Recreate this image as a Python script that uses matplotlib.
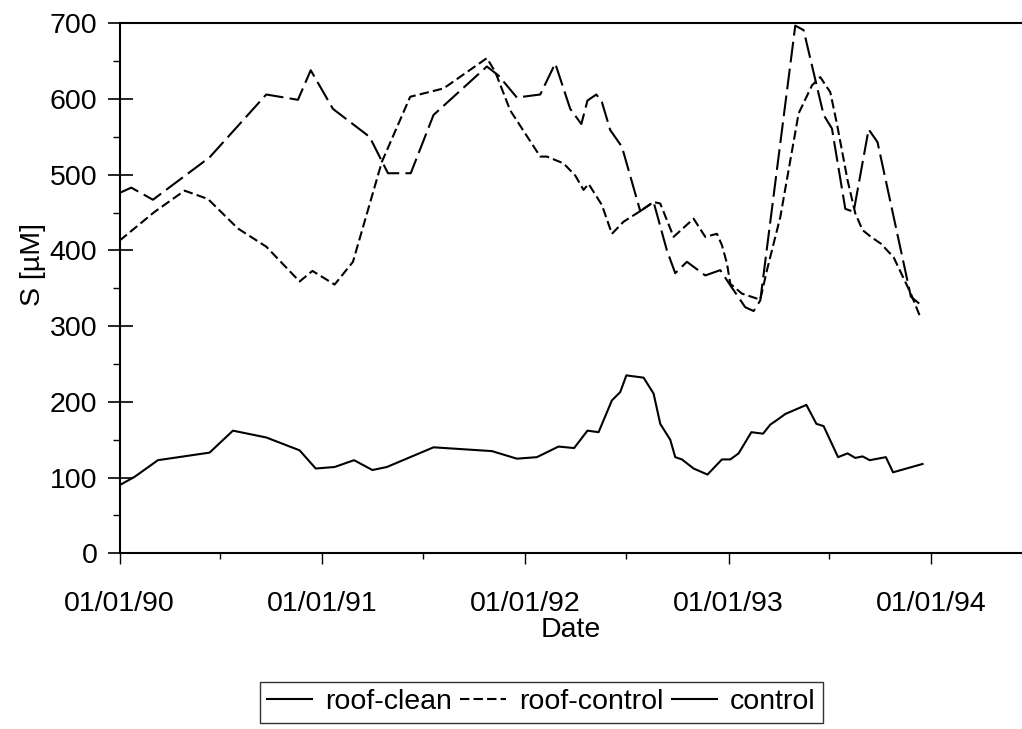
import numpy as np
import pandas as pd
import matplotlib
matplotlib.use("Agg")
import matplotlib.pyplot as plt
import matplotlib.dates as mdates
from matplotlib.lines import Line2D
from matplotlib.ticker import MultipleLocator

plt.rcParams['font.family'] = ['Liberation Sans', 'DejaVu Sans']

# roof-clean (long dashes)
clean_dates = ["1990-01-01", "1990-01-22", "1990-03-02", "1990-06-12", "1990-09-22",
               "1990-11-18", "1990-12-11", "1991-01-20", "1991-03-27", "1991-04-29",
               "1991-06-09", "1991-07-20", "1991-10-24", "1991-11-14", "1991-12-17",
               "1992-01-28", "1992-02-24", "1992-03-22", "1992-04-11", "1992-04-22",
               "1992-05-08", "1992-05-18", "1992-06-02", "1992-06-23", "1992-07-26",
               "1992-08-19", "1992-09-12", "1992-09-27", "1992-10-18", "1992-11-20",
               "1992-12-17", "1993-01-04", "1993-01-31", "1993-02-15", "1993-02-27",
               "1993-05-01", "1993-05-16", "1993-06-21", "1993-07-06", "1993-07-30",
               "1993-08-14", "1993-09-10", "1993-09-26", "1993-11-25", "1993-12-13"]
clean_vals = [476, 483, 467, 523, 606, 599, 638, 587, 550, 502,
              502, 579, 643, 631, 602, 606, 647, 587, 567, 598,
              606, 596, 559, 537, 452, 464, 400, 370, 385, 367,
              374, 354, 325, 320, 334, 697, 691, 579, 561, 455,
              451, 560, 543, 339, 328]

# roof-control (short dashes)
rc_dates = ["1990-01-01", "1990-03-05", "1990-04-28", "1990-06-09", "1990-08-02",
            "1990-09-22", "1990-11-21", "1990-12-14", "1991-01-23", "1991-02-25",
            "1991-04-18", "1991-06-08", "1991-08-07", "1991-10-24", "1991-11-08",
            "1991-12-05", "1992-01-28", "1992-02-09", "1992-03-10", "1992-03-31",
            "1992-04-15", "1992-04-24", "1992-05-18", "1992-06-05", "1992-06-26",
            "1992-07-26", "1992-08-19", "1992-08-31", "1992-09-24", "1992-10-30",
            "1992-11-20", "1992-12-11", "1992-12-20", "1992-12-29", "1993-01-04",
            "1993-01-25", "1993-02-27", "1993-03-11", "1993-04-04", "1993-05-07",
            "1993-05-31", "1993-06-15", "1993-07-03", "1993-07-15", "1993-08-03",
            "1993-08-17", "1993-08-30", "1993-09-14", "1993-10-02", "1993-10-25",
            "1993-11-25", "1993-12-13"]
rc_vals = [413, 451, 479, 468, 429, 405, 359, 373, 355, 385,
           517, 603, 614, 654, 636, 585, 524, 524, 515, 499,
           480, 488, 460, 422, 438, 452, 464, 462, 418, 442,
           418, 422, 407, 383, 356, 343, 335, 374, 444, 581,
           618, 629, 609, 567, 493, 449, 427, 418, 409, 391,
           343, 310]

# control (solid)
ctrl_dates = ["1990-01-01", "1990-01-28", "1990-03-11", "1990-06-12", "1990-07-24",
              "1990-09-22", "1990-11-21", "1990-12-20", "1991-01-23", "1991-02-27",
              "1991-04-01", "1991-04-27", "1991-07-20", "1991-11-02", "1991-12-17",
              "1992-01-22", "1992-03-01", "1992-03-29", "1992-04-22", "1992-05-12",
              "1992-06-05", "1992-06-20", "1992-07-01", "1992-08-01", "1992-08-19",
              "1992-08-31", "1992-09-18", "1992-09-27", "1992-10-09", "1992-10-30",
              "1992-11-24", "1992-12-20", "1993-01-04", "1993-01-19", "1993-02-11",
              "1993-03-04", "1993-03-17", "1993-03-29", "1993-04-13", "1993-05-21",
              "1993-06-08", "1993-06-21", "1993-07-17", "1993-08-03", "1993-08-17",
              "1993-08-30", "1993-09-12", "1993-10-11", "1993-10-24", "1993-12-16"]
ctrl_vals = [90, 101, 123, 133, 162, 153, 136, 112, 114, 123,
             110, 114, 140, 135, 125, 127, 141, 139, 162, 160,
             202, 213, 235, 232, 211, 171, 150, 127, 124, 112,
             104, 124, 124, 132, 160, 158, 170, 176, 184, 196,
             171, 168, 127, 132, 126, 128, 123, 127, 107, 118]

fig = plt.figure(figsize=(10.22, 7.29), dpi=100)
ax = fig.add_axes([0.117, 0.241, 0.883, 0.727])

l_clean, = ax.plot(pd.to_datetime(clean_dates), clean_vals, color='black', lw=1.5,
                   dashes=(10, 3))
l_rc, = ax.plot(pd.to_datetime(rc_dates), rc_vals, color='black', lw=1.5,
                dashes=(4.5, 2))
l_ctrl, = ax.plot(pd.to_datetime(ctrl_dates), ctrl_vals, color='black', lw=1.5)

ax.set_ylim(0, 700)
ax.set_xlim(pd.Timestamp("1990-01-01"), pd.Timestamp("1994-06-13"))

ax.yaxis.set_major_locator(MultipleLocator(100))
ax.yaxis.set_minor_locator(MultipleLocator(50))
ax.xaxis.set_major_locator(mdates.YearLocator())
ax.xaxis.set_minor_locator(mdates.MonthLocator(bymonth=7))
ax.xaxis.set_major_formatter(mdates.DateFormatter('%m/%d/%y'))

fs = 20.5
ax.tick_params(axis='y', which='major', direction='inout', length=18, width=1.2,
               labelsize=fs, pad=7)
ax.tick_params(axis='y', which='minor', direction='out', length=5, width=1)
ax.tick_params(axis='x', which='major', direction='out', length=8, width=1,
               labelsize=fs, pad=19)
ax.tick_params(axis='x', which='minor', direction='out', length=4, width=1)

for s in ['left', 'bottom', 'top']:
    ax.spines[s].set_linewidth(1.5)
ax.spines['right'].set_visible(False)

ax.set_xlabel('Date', fontsize=fs, labelpad=0)
ax.set_ylabel('S [µM]', fontsize=fs)
ax.yaxis.set_label_coords(-0.082, 0.545)

handles = [Line2D([], [], color='black', lw=1.5), l_rc, l_ctrl]
leg = fig.legend(handles, ['roof-clean', 'roof-control', 'control'],
                 loc='upper left', bbox_to_anchor=(0.254, 0.064), ncol=3,
                 fontsize=fs, frameon=True, fancybox=False, handlelength=1.6,
                 handletextpad=0.45, columnspacing=0.3, borderpad=0.25,
                 borderaxespad=0)
leg.get_frame().set_edgecolor('black')
leg.get_frame().set_linewidth(1)

fig.savefig('out.png', dpi=100)
